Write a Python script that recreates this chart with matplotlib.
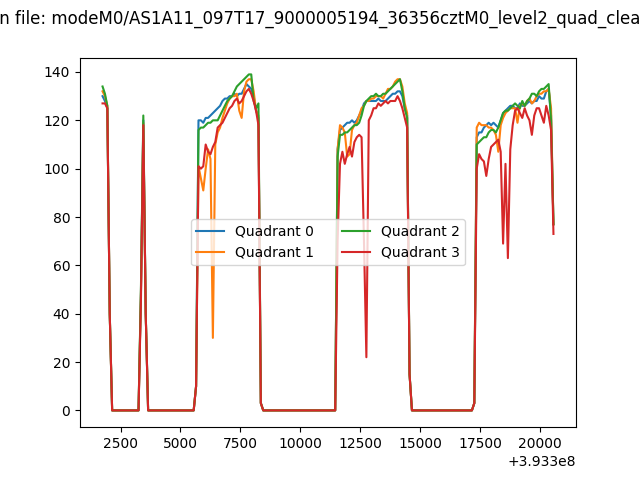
import numpy as np
import matplotlib
matplotlib.use("Agg")
import matplotlib.pyplot as plt

title = "Plot in file: modeM0/AS1A11_097T17_9000005194_36356cztM0_level2_quad_clean.evt"
t0 = 3.933e8
t_start = 1750
t_step = 100
labels = ["Quadrant 0", "Quadrant 1", "Quadrant 2", "Quadrant 3"]

q0 = [130, 128, 125, 40,
      0, 0, 0, 0, 0, 0, 0, 0, 0, 0, 0, 0,
      48, 120, 40,
      0, 0, 0, 0, 0, 0, 0, 0, 0, 0, 0, 0, 0, 0, 0, 0, 0, 0, 0, 0,
      10,
      120, 120, 119, 121, 121, 122, 123, 124, 125, 126,
      128, 129, 129, 130, 130, 131, 130, 131, 131, 133,
      135, 134, 133, 130, 124, 121,
      3,
      0, 0, 0, 0, 0, 0, 0, 0, 0, 0, 0, 0, 0, 0, 0, 0, 0, 0, 0, 0,
      0, 0, 0, 0, 0, 0, 0, 0, 0, 0, 0,
      108,
      116, 117, 118, 119, 119, 120, 119, 120, 122, 124,
      127, 128, 128, 128, 128, 128, 129, 128, 128, 128,
      129, 130, 131, 131, 132, 132, 130, 125, 122,
      15,
      0, 0, 0, 0, 0, 0, 0, 0, 0, 0, 0, 0, 0, 0, 0, 0, 0, 0, 0, 0,
      0, 0, 0, 0, 0, 0,
      3,
      113, 115, 115, 117, 118, 119, 118, 119, 118, 117,
      120, 123, 124, 125, 126, 126, 125, 125, 127, 126,
      126, 127, 128, 127, 128, 128, 130, 129, 129, 132,
      133, 122, 77]

q1 = [132, 130, 126, 40,
      0, 0, 0, 0, 0, 0, 0, 0, 0, 0, 0, 0,
      48, 119, 40,
      0, 0, 0, 0, 0, 0, 0, 0, 0, 0, 0, 0, 0, 0, 0, 0, 0, 0, 0, 0,
      10,
      101, 96, 91, 100, 108, 104, 30, 110, 115, 117,
      121, 124, 127, 129, 130, 130, 131, 124, 121, 132,
      136, 137, 137, 132, 124, 122,
      3,
      0, 0, 0, 0, 0, 0, 0, 0, 0, 0, 0, 0, 0, 0, 0, 0, 0, 0, 0, 0,
      0, 0, 0, 0, 0, 0, 0, 0, 0, 0, 0,
      108,
      118, 117, 115, 105, 106, 116, 118, 119, 122, 125,
      126, 128, 128, 129, 129, 130, 130, 130, 129, 131,
      133, 133, 134, 136, 137, 137, 134, 127, 123,
      15,
      0, 0, 0, 0, 0, 0, 0, 0, 0, 0, 0, 0, 0, 0, 0, 0, 0, 0, 0, 0,
      0, 0, 0, 0, 0, 0,
      3,
      117, 119, 118, 118, 118, 117, 117, 116, 114, 107,
      118, 121, 123, 124, 125, 125, 125, 119, 126, 127,
      126, 128, 129, 127, 128, 130, 131, 131, 132, 132,
      133, 125, 77]

q2 = [134, 131, 126, 40,
      0, 0, 0, 0, 0, 0, 0, 0, 0, 0, 0, 0,
      50, 122, 40,
      0, 0, 0, 0, 0, 0, 0, 0, 0, 0, 0, 0, 0, 0, 0, 0, 0, 0, 0, 0,
      10,
      116, 117, 117, 118, 119, 119, 120, 120, 120, 122,
      124, 126, 128, 129, 130, 132, 134, 135, 136, 137,
      138, 139, 139, 128, 125, 127,
      3,
      0, 0, 0, 0, 0, 0, 0, 0, 0, 0, 0, 0, 0, 0, 0, 0, 0, 0, 0, 0,
      0, 0, 0, 0, 0, 0, 0, 0, 0, 0, 0,
      105,
      114, 114, 115, 115, 116, 117, 118, 118, 119, 122,
      126, 128, 129, 130, 130, 131, 130, 130, 131, 131,
      132, 133, 134, 135, 136, 137, 132, 125, 121,
      15,
      0, 0, 0, 0, 0, 0, 0, 0, 0, 0, 0, 0, 0, 0, 0, 0, 0, 0, 0, 0,
      0, 0, 0, 0, 0, 0,
      3,
      110, 111, 112, 113, 113, 115, 116, 116, 115, 117,
      120, 123, 124, 124, 125, 126, 127, 126, 125, 128,
      126, 128, 129, 131, 131, 130, 132, 133, 133, 134,
      135, 120, 77]

q3 = [127, 127, 125, 40,
      0, 0, 0, 0, 0, 0, 0, 0, 0, 0, 0, 0,
      45, 118, 40,
      0, 0, 0, 0, 0, 0, 0, 0, 0, 0, 0, 0, 0, 0, 0, 0, 0, 0, 0, 0,
      10,
      101, 100, 101, 110, 107, 106, 109, 111, 117, 118,
      119, 121, 123, 125, 126, 128, 129, 127, 128, 130,
      132, 133, 131, 128, 124, 118,
      3,
      0, 0, 0, 0, 0, 0, 0, 0, 0, 0, 0, 0, 0, 0, 0, 0, 0, 0, 0, 0,
      0, 0, 0, 0, 0, 0, 0, 0, 0, 0, 0,
      70,
      102, 107, 102, 106, 109, 105, 111, 113, 114, 113,
      70, 22, 120, 122, 125, 125, 127, 126, 127, 128,
      127, 128, 128, 128, 130, 128, 125, 121, 117,
      15,
      0, 0, 0, 0, 0, 0, 0, 0, 0, 0, 0, 0, 0, 0, 0, 0, 0, 0, 0, 0,
      0, 0, 0, 0, 0, 0,
      3,
      100, 106, 104, 103, 97, 104, 109, 110, 111, 112,
      107, 69, 102, 63, 108, 118, 124, 125, 123, 121,
      125, 122, 120, 114, 122, 125, 125, 122, 119, 126,
      122, 116, 73]

series = [q0, q1, q2, q3]
times = t0 + t_start + t_step * np.arange(len(q0))

fig, ax = plt.subplots(figsize=(6.4, 4.8), dpi=100)
for vals, lab in zip(series, labels):
    ax.plot(times, vals, label=lab)
ax.legend(loc="center", ncol=2)
fig.suptitle(title)
fig.savefig("out.png", dpi=100)
